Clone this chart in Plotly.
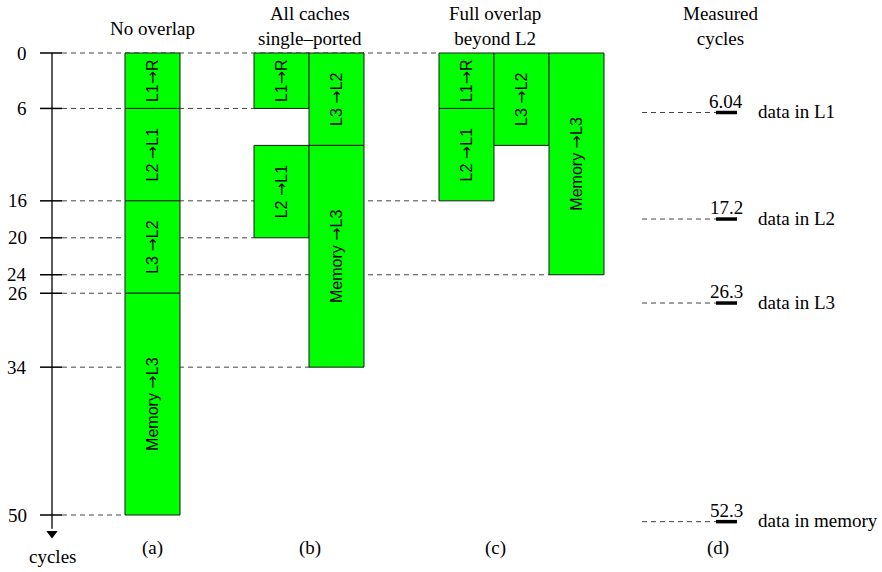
import plotly.graph_objects as go

# ---------------- data ----------------
scenario_titles = ["No overlap", "All caches<br>single\u2013ported", "Full overlap<br>beyond L2", "Measured<br>cycles"]
scenario_tags = ["(a)", "(b)", "(c)", "(d)"]

# bars: scenario index, lane within scenario, label, start cycle, end cycle
bar_scenario = [0, 0, 0, 0, 1, 1, 1, 1, 2, 2, 2, 2]
bar_lane = [0, 0, 0, 0, 0, 0, 1, 1, 0, 0, 1, 2]
bar_labels = ["L1\u2192R", "L2 \u2192L1", "L3 \u2192L2", "Memory \u2192L3",
              "L1\u2192R", "L2 \u2192L1", "L3 \u2192L2", "Memory \u2192L3",
              "L1\u2192R", "L2 \u2192L1", "L3 \u2192L2", "Memory \u2192L3"]
bar_start = [0, 6, 16, 26, 0, 10, 0, 10, 0, 6, 0, 0]
bar_end = [6, 16, 26, 50, 6, 20, 10, 34, 6, 16, 10, 24]

tick_values = [0, 6, 16, 20, 24, 26, 34, 50]
# how far each guide line extends to the right (pixel-like x units)
tick_guide_end = [439, 254, 439, 254, 549, 125, 309, 125]

measured_values = ["6.04", "17.2", "26.3", "52.3"]
measured_marks = [6.44, 17.97, 27.06, 50.72]   # where the marks sit on the drawn scale
measured_labels = ["data in L1", "data in L2", "data in L3", "data in memory"]

# ---------------- layout helpers ----------------
W, H = 882, 572
Y0_PIX, PX_PER_CYCLE = 53, 9.24
y_top = (0 - Y0_PIX) / PX_PER_CYCLE
y_bot = (H - Y0_PIX) / PX_PER_CYCLE

scen_x0 = [125, 254, 439]
bar_w = 55
col_center = [152.5, 310, 495, 720]

SERIF = "Liberation Serif, Times New Roman, serif"
SANS = "Liberation Sans, Arial, sans-serif"
GREEN = "#00ff00"

def arrowize(s):
    return s.replace("\u2192", "<span style='font-family:DejaVu Sans'>\u2192</span>")

fig = go.Figure()

xs = [scen_x0[s] + bar_w * (l + 0.5) for s, l in zip(bar_scenario, bar_lane)]
fig.add_trace(go.Bar(
    x=xs, base=bar_start, y=[e - s for s, e in zip(bar_start, bar_end)],
    width=[bar_w] * len(xs),
    marker=dict(color=GREEN, line=dict(color="#1a1a1a", width=1)),
    text=[arrowize(b) for b in bar_labels], textposition="inside", insidetextanchor="middle",
    textangle=-90, textfont=dict(family=SANS, size=16, color="black"),
    constraintext="none", hoverinfo="skip", showlegend=False,
))

shapes = []
annotations = []

# axis line and arrow
AX_X = 52
shapes.append(dict(type="line", xref="x", yref="y", x0=AX_X, x1=AX_X, y0=0, y1=51.5,
                   line=dict(color="black", width=1.3)))
fig.add_trace(go.Scatter(x=[AX_X], y=[52.0], mode="markers",
                         marker=dict(symbol="triangle-down", size=10, color="black"),
                         hoverinfo="skip", showlegend=False))

for v, xe in zip(tick_values, tick_guide_end):
    shapes.append(dict(type="line", xref="x", yref="y", x0=40, x1=62, y0=v, y1=v,
                       line=dict(color="black", width=1.5)))
    shapes.append(dict(type="line", xref="x", yref="y", x0=62, x1=xe, y0=v, y1=v,
                       layer="below", line=dict(color="#444", width=1, dash="5px,4px")))
    annotations.append(dict(x=29, y=v, xref="x", yref="y", text=str(v), showarrow=False,
                            xanchor="right", yanchor="middle",
                            font=dict(family=SERIF, size=19, color="black")))

# measured column
for val, m, lab in zip(measured_values, measured_marks, measured_labels):
    shapes.append(dict(type="line", xref="x", yref="y", x0=642, x1=716, y0=m, y1=m,
                       layer="below", line=dict(color="#444", width=1, dash="5px,4px")))
    shapes.append(dict(type="line", xref="x", yref="y", x0=716, x1=737, y0=m, y1=m,
                       line=dict(color="black", width=3.5)))
    annotations.append(dict(x=726, y=m, xref="x", yref="y", text=val, showarrow=False,
                            xanchor="center", yanchor="bottom", yshift=-1,
                            font=dict(family=SERIF, size=19, color="black")))
    annotations.append(dict(x=756, y=m, xref="x", yref="y", text=lab, showarrow=False,
                            xanchor="left", yanchor="middle", yshift=1,
                            font=dict(family=SERIF, size=19, color="black")))

# titles and tags
title_y = [28, 26, 26, 26]
for i, (t, tag) in enumerate(zip(scenario_titles, scenario_tags)):
    annotations.append(dict(x=col_center[i], y=(title_y[i] - Y0_PIX) / PX_PER_CYCLE, xref="x", yref="y",
                            text=t, showarrow=False, xanchor="center", yanchor="middle",
                            font=dict(family=SERIF, size=19, color="black")))
    annotations.append(dict(x=col_center[i] if i < 3 else 718, y=(548 - Y0_PIX) / PX_PER_CYCLE,
                            xref="x", yref="y", text=tag, showarrow=False,
                            xanchor="center", yanchor="middle",
                            font=dict(family=SERIF, size=19, color="black")))
annotations.append(dict(x=AX_X, y=(556 - Y0_PIX) / PX_PER_CYCLE, xref="x", yref="y",
                        text="cycles", showarrow=False, xanchor="center", yanchor="middle",
                        font=dict(family=SERIF, size=19, color="black")))

fig.update_layout(
    width=W, height=H, margin=dict(l=0, r=0, t=0, b=0),
    paper_bgcolor="white", plot_bgcolor="white",
    barmode="overlay", showlegend=False,
    xaxis=dict(range=[0, W], visible=False, fixedrange=True),
    yaxis=dict(range=[y_bot, y_top], visible=False, fixedrange=True),
    shapes=shapes, annotations=annotations,
)

fig.write_html("out.html", config={"displayModeBar": False},
               post_script="document.body.style.margin='0';document.body.style.overflow='hidden';")
